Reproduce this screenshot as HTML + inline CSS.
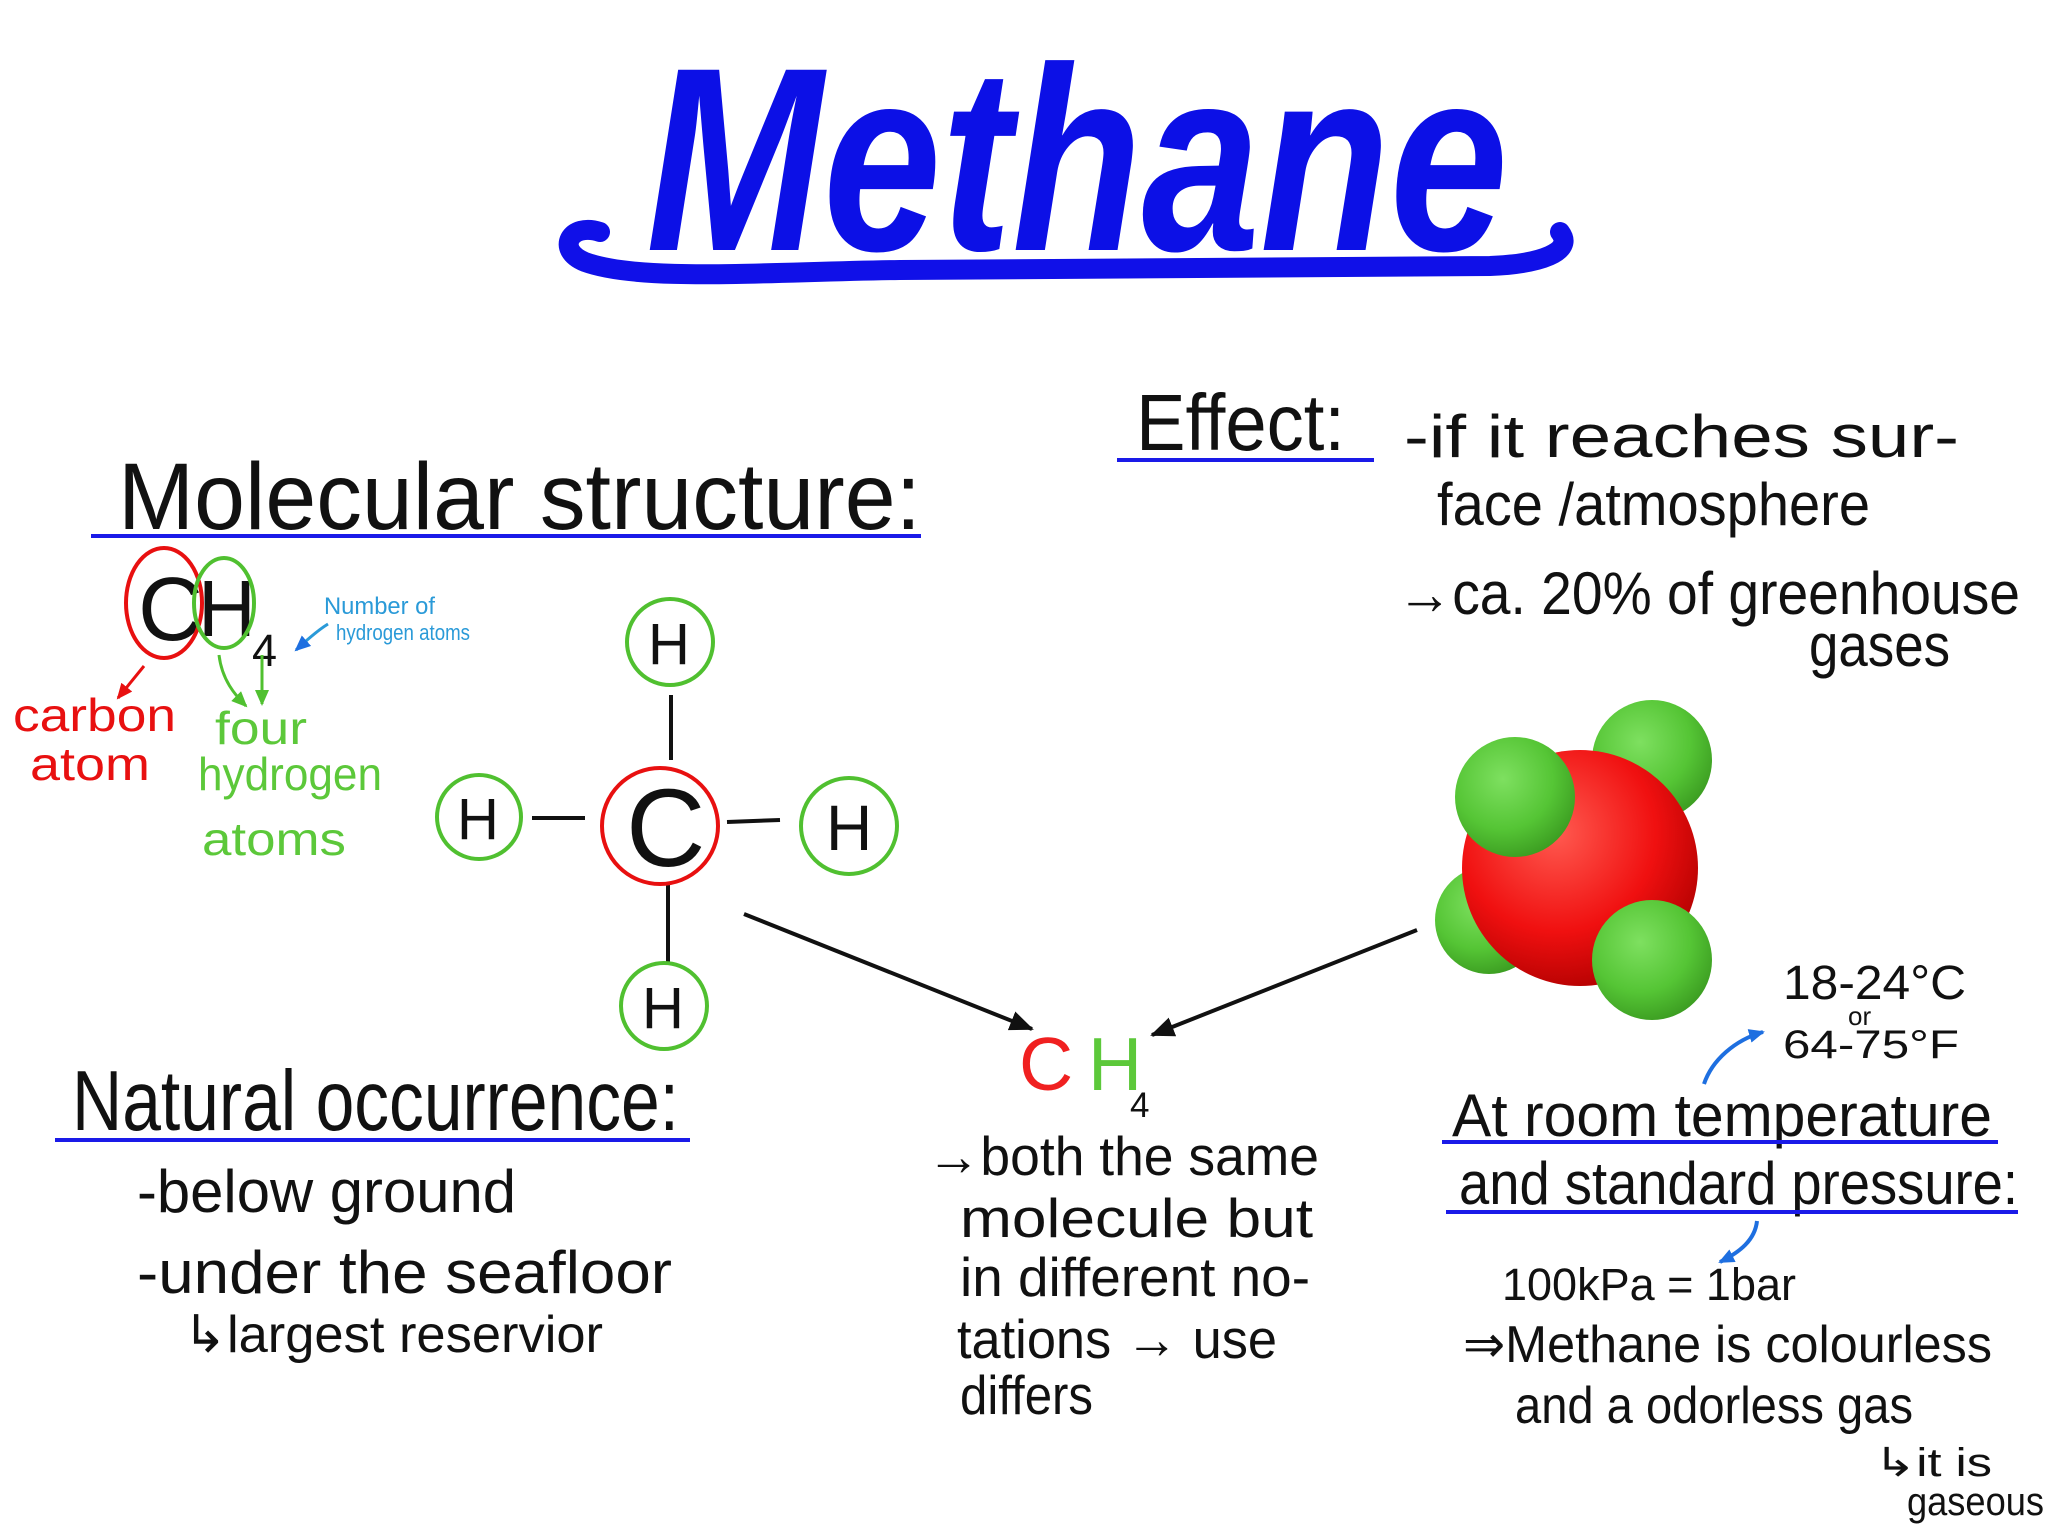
<!DOCTYPE html>
<html><head><meta charset="utf-8"><style>
html,body{margin:0;padding:0;background:#fff;}
svg{display:block;}
text{font-family:"Liberation Sans",sans-serif;}
</style></head><body>
<svg width="2048" height="1536" viewBox="0 0 2048 1536">
<defs>
<radialGradient id="rg" cx="0.4" cy="0.35" r="0.7"><stop offset="0" stop-color="#ff5a50"/><stop offset="0.6" stop-color="#f01010"/><stop offset="1" stop-color="#b00000"/></radialGradient>
<radialGradient id="gg" cx="0.4" cy="0.35" r="0.7"><stop offset="0" stop-color="#7ee060"/><stop offset="0.6" stop-color="#55c535"/><stop offset="1" stop-color="#3a9a20"/></radialGradient>
<marker id="ah" markerUnits="userSpaceOnUse" markerWidth="24" markerHeight="20" refX="22" refY="10" orient="auto"><path d="M0,0 L24,10 L0,20 z" fill="#111"/></marker>
<marker id="ahr" markerUnits="userSpaceOnUse" markerWidth="16" markerHeight="14" refX="14" refY="7" orient="auto"><path d="M0,0 L16,7 L0,14 z" fill="#e81010"/></marker>
<marker id="ahg" markerUnits="userSpaceOnUse" markerWidth="16" markerHeight="14" refX="14" refY="7" orient="auto"><path d="M0,0 L16,7 L0,14 z" fill="#50c030"/></marker>
<marker id="ahb" markerUnits="userSpaceOnUse" markerWidth="16" markerHeight="14" refX="14" refY="7" orient="auto"><path d="M0,0 L16,7 L0,14 z" fill="#1e6fe0"/></marker>
</defs>

<g>
<path d="M600,232 C570,222 555,250 585,262 C640,282 760,272 900,270 L1490,266 C1540,264 1575,252 1560,232" fill="none" stroke="#1010e8" stroke-width="20" stroke-linecap="round"/>
<text x="646" y="250" font-size="262" font-style="italic" font-weight="bold" fill="#0c10e6" textLength="862" lengthAdjust="spacingAndGlyphs">Methane</text>
</g>

<text x="118" y="529" font-size="95" fill="#111" textLength="803" lengthAdjust="spacingAndGlyphs">Molecular structure:</text>
<line x1="91" y1="536" x2="921" y2="536" stroke="#1a1ae8" stroke-width="4"/>

<g>
<text x="138" y="640" font-size="90" fill="#111">C</text>
<text x="198" y="636" font-size="80" fill="#111">H</text>
<text x="252" y="666" font-size="45" fill="#111">4</text>
<ellipse cx="164" cy="603" rx="38" ry="55" fill="none" stroke="#e81010" stroke-width="4"/>
<ellipse cx="224" cy="603" rx="30" ry="45" fill="none" stroke="#50c030" stroke-width="4"/>
</g>
<path d="M144,666 L118,698" stroke="#e81010" stroke-width="3" fill="none" marker-end="url(#ahr)"/>
<text x="13" y="731" font-size="46" fill="#e81010" textLength="163" lengthAdjust="spacingAndGlyphs">carbon</text>
<text x="30" y="780" font-size="46" fill="#e81010" textLength="120" lengthAdjust="spacingAndGlyphs">atom</text>
<path d="M219,655 C222,680 235,695 246,706" stroke="#50c030" stroke-width="3" fill="none" marker-end="url(#ahg)"/>
<path d="M262,655 L262,704" stroke="#50c030" stroke-width="3" fill="none" marker-end="url(#ahg)"/>
<text x="215" y="744" font-size="46" fill="#5cc83a" textLength="92" lengthAdjust="spacingAndGlyphs">four</text>
<text x="198" y="790" font-size="46" fill="#5cc83a" textLength="184" lengthAdjust="spacingAndGlyphs">hydrogen</text>
<text x="202" y="855" font-size="46" fill="#5cc83a" textLength="144" lengthAdjust="spacingAndGlyphs">atoms</text>
<path d="M328,624 C315,632 305,642 296,650" stroke="#2a9ad8" stroke-width="3" fill="none" marker-end="url(#ahb)"/>
<text x="324" y="614" font-size="24" fill="#2a9ad8" textLength="111" lengthAdjust="spacingAndGlyphs">Number of</text>
<text x="336" y="640" font-size="22" fill="#2a9ad8" textLength="134" lengthAdjust="spacingAndGlyphs">hydrogen atoms</text>

<g stroke-width="4" fill="none">
<line x1="671" y1="695" x2="671" y2="760" stroke="#111"/>
<line x1="668" y1="885" x2="668" y2="962" stroke="#111"/>
<line x1="532" y1="818" x2="585" y2="818" stroke="#111"/>
<line x1="727" y1="822" x2="780" y2="820" stroke="#111"/>
<circle cx="660" cy="826" r="58" stroke="#e81010"/>
<circle cx="670" cy="642" r="43" stroke="#50c030"/>
<circle cx="479" cy="817" r="42" stroke="#50c030"/>
<circle cx="849" cy="826" r="48" stroke="#50c030"/>
<circle cx="664" cy="1006" r="43" stroke="#50c030"/>
<g fill="#111" stroke="none">
<text x="626" y="866" font-size="110">C</text>
<text x="648" y="664" font-size="58">H</text>
<text x="457" y="839" font-size="58">H</text>
<text x="826" y="850" font-size="64">H</text>
<text x="642" y="1028" font-size="58">H</text>
</g></g>

<line x1="744" y1="914" x2="1032" y2="1029" stroke="#111" stroke-width="4" marker-end="url(#ah)"/>
<line x1="1417" y1="930" x2="1152" y2="1035" stroke="#111" stroke-width="4" marker-end="url(#ah)"/>

<g>
<circle cx="1489" cy="920" r="54" fill="url(#gg)"/>
<circle cx="1652" cy="760" r="60" fill="url(#gg)"/>
<circle cx="1580" cy="868" r="118" fill="url(#rg)"/>
<circle cx="1515" cy="797" r="60" fill="url(#gg)"/>
<circle cx="1652" cy="960" r="60" fill="url(#gg)"/>
</g>

<g>
<text x="1019" y="1090" font-size="75" fill="#f02020">C</text>
<text x="1088" y="1090" font-size="75" fill="#5cc83a">H</text>
<text x="1130" y="1117" font-size="35" fill="#111">4</text>
</g>
<g font-size="55" fill="#111">
<text x="927" y="1175" textLength="392" lengthAdjust="spacingAndGlyphs">→both the same</text>
<text x="960" y="1237" textLength="353" lengthAdjust="spacingAndGlyphs">molecule but</text>
<text x="960" y="1296" textLength="350" lengthAdjust="spacingAndGlyphs">in different no-</text>
<text x="957" y="1358" textLength="320" lengthAdjust="spacingAndGlyphs">tations → use</text>
<text x="960" y="1414" textLength="133" lengthAdjust="spacingAndGlyphs">differs</text>
</g>

<text x="1136" y="450" font-size="80" fill="#111" textLength="209" lengthAdjust="spacingAndGlyphs">Effect:</text>
<line x1="1117" y1="460" x2="1374" y2="460" stroke="#1a1ae8" stroke-width="4"/>
<g font-size="60" fill="#111">
<text x="1404" y="457" textLength="555" lengthAdjust="spacingAndGlyphs">-if it reaches sur-</text>
<text x="1437" y="525" textLength="433" lengthAdjust="spacingAndGlyphs">face /atmosphere</text>
<text x="1397" y="614" textLength="623" lengthAdjust="spacingAndGlyphs">→ca. 20% of greenhouse</text>
<text x="1809" y="666" textLength="141" lengthAdjust="spacingAndGlyphs">gases</text>
</g>

<text x="72" y="1130" font-size="85" fill="#111" textLength="607" lengthAdjust="spacingAndGlyphs">Natural occurrence:</text>
<line x1="55" y1="1140" x2="690" y2="1140" stroke="#1a1ae8" stroke-width="4"/>
<g fill="#111">
<text x="137" y="1212" font-size="60" textLength="379" lengthAdjust="spacingAndGlyphs">-below ground</text>
<text x="137" y="1293" font-size="60" textLength="535" lengthAdjust="spacingAndGlyphs">-under the seafloor</text>
<text x="183" y="1352" font-size="52" textLength="420" lengthAdjust="spacingAndGlyphs">↳largest reservior</text>
</g>

<g fill="#111">
<text x="1783" y="999" font-size="48" textLength="183" lengthAdjust="spacingAndGlyphs">18-24°C</text>
<text x="1848" y="1025" font-size="26">or</text>
<text x="1783" y="1058" font-size="40" textLength="176" lengthAdjust="spacingAndGlyphs">64-75°F</text>
</g>
<path d="M1704,1084 C1712,1060 1735,1040 1763,1032" stroke="#1e6fe0" stroke-width="4" fill="none" marker-end="url(#ahb)"/>
<text x="1452" y="1136" font-size="60" fill="#111" textLength="540" lengthAdjust="spacingAndGlyphs">At room temperature</text>
<line x1="1442" y1="1142" x2="1998" y2="1142" stroke="#1a1ae8" stroke-width="4"/>
<text x="1459" y="1204" font-size="60" fill="#111" textLength="559" lengthAdjust="spacingAndGlyphs">and standard pressure:</text>
<line x1="1446" y1="1212" x2="2018" y2="1212" stroke="#1a1ae8" stroke-width="4"/>
<path d="M1757,1221 C1755,1240 1740,1252 1720,1262" stroke="#1e6fe0" stroke-width="4" fill="none" marker-end="url(#ahb)"/>
<g fill="#111">
<text x="1502" y="1300" font-size="45" textLength="294" lengthAdjust="spacingAndGlyphs">100kPa = 1bar</text>
<text x="1463" y="1362" font-size="52" textLength="529" lengthAdjust="spacingAndGlyphs">⇒Methane is colourless</text>
<text x="1515" y="1423" font-size="52" textLength="398" lengthAdjust="spacingAndGlyphs">and a odorless gas</text>
<text x="1874" y="1476" font-size="40" textLength="118" lengthAdjust="spacingAndGlyphs">↳it is</text>
<text x="1907" y="1515" font-size="40" textLength="137" lengthAdjust="spacingAndGlyphs">gaseous</text>
</g>
</svg>
</body></html>
